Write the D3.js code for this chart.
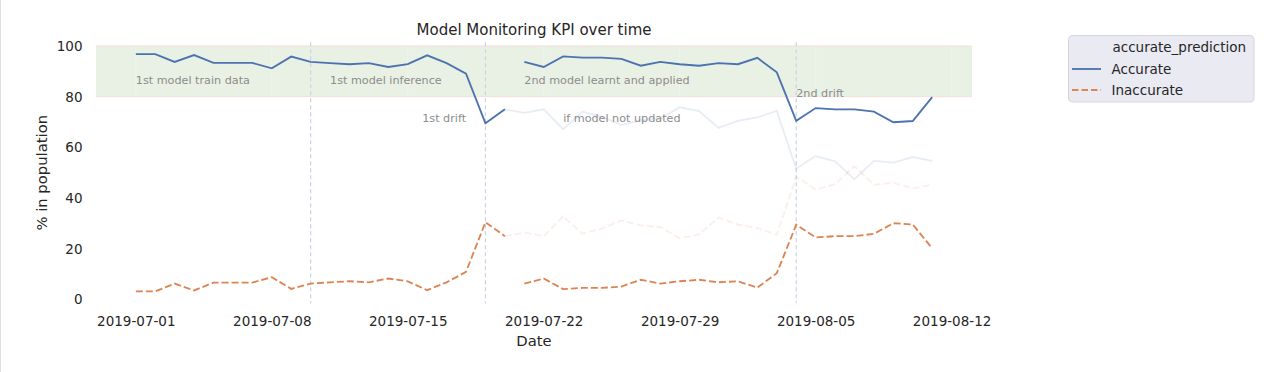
<html>
<head>
    <title>Model Monitoring KPI over time</title>
    <script src="https://d3js.org/d3.v7.min.js"></script>
    <style>
        body { margin: 0; background: #fff; }
        text { font-family: "DejaVu Sans", sans-serif; }
    </style>
</head>
<body>
<div id="container"></div>
<script>
// dates of the first model period (train + inference) and second model period
var dates1 = ["2019-07-01", "2019-07-02", "2019-07-03", "2019-07-04", "2019-07-05",
              "2019-07-06", "2019-07-07", "2019-07-08", "2019-07-09", "2019-07-10",
              "2019-07-11", "2019-07-12", "2019-07-13", "2019-07-14", "2019-07-15",
              "2019-07-16", "2019-07-17", "2019-07-18", "2019-07-19", "2019-07-20"];
var dates2 = ["2019-07-21", "2019-07-22", "2019-07-23", "2019-07-24", "2019-07-25",
              "2019-07-26", "2019-07-27", "2019-07-28", "2019-07-29", "2019-07-30",
              "2019-07-31", "2019-08-01", "2019-08-02", "2019-08-03", "2019-08-04",
              "2019-08-05", "2019-08-06", "2019-08-07", "2019-08-08", "2019-08-09",
              "2019-08-10", "2019-08-11"];
// "if model not updated" runs from 2019-07-20 on
var datesOld = ["2019-07-20"].concat(dates2);

var accurate1   = [96.8, 96.8, 93.7, 96.4, 93.3, 93.3, 93.3, 91.2, 95.8, 93.7,
                   93.2, 92.8, 93.2, 91.7, 92.8, 96.3, 93.2, 89.1, 69.5, 75.0];
var inaccurate1 = [3.2, 3.2, 6.3, 3.6, 6.7, 6.7, 6.7, 8.8, 4.2, 6.3,
                   6.8, 7.2, 6.8, 8.3, 7.2, 3.7, 6.8, 10.9, 30.5, 25.0];
var accurate2   = [93.7, 91.7, 95.9, 95.4, 95.4, 94.9, 92.2, 93.7, 92.8, 92.2, 93.2,
                   92.8, 95.3, 89.6, 70.5, 75.5, 75.0, 75.0, 74.1, 69.9, 70.4, 79.8];
var inaccurate2 = [6.3, 8.3, 4.1, 4.6, 4.6, 5.1, 7.8, 6.3, 7.2, 7.8, 6.8,
                   7.2, 4.7, 10.4, 29.5, 24.5, 25.0, 25.0, 25.9, 30.1, 29.6, 20.2];
var oldAccurate   = [75.0, 73.6, 75.0, 67.2, 74.0, 72.0, 68.8, 70.8, 71.4, 75.8, 74.3, 67.7,
                     70.5, 71.8, 74.4, 51.6, 56.6, 54.5, 47.4, 54.7, 54.0, 56.2, 54.7];
var oldInaccurate = [25.0, 26.4, 25.0, 32.8, 26.0, 28.0, 31.2, 29.2, 28.6, 24.2, 25.7, 32.3,
                     29.5, 28.2, 25.6, 48.4, 43.4, 45.5, 52.6, 45.3, 46.0, 43.8, 45.3];

var xTickLabels = ["2019-07-01", "2019-07-08", "2019-07-15", "2019-07-22",
                   "2019-07-29", "2019-08-05", "2019-08-12"];
var yTicks = [0, 20, 40, 60, 80, 100];
var driftDates = ["2019-07-10", "2019-07-19", "2019-08-04"];
var band = [80, 100];

var notes = [
    {date: "2019-07-01", y: 85, text: "1st model train data", anchor: "start"},
    {date: "2019-07-11", y: 85, text: "1st model inference", anchor: "start"},
    {date: "2019-07-21", y: 85, text: "2nd model learnt and applied", anchor: "start"},
    {date: "2019-07-18", y: 70, text: "1st drift", anchor: "end"},
    {date: "2019-07-23", y: 70, text: "if model not updated", anchor: "start"},
    {date: "2019-08-04", y: 80, text: "2nd drift", anchor: "start"}
];

var parse = d3.timeParse("%Y-%m-%d");
var width = 1287, height = 372;
var plotLeft = 96, plotRight = 972, plotTop = 42.2, plotBottom = 303.3;
var blue = "#4c72b0", orange = "#dd8452", ink = "#262626";

var svg = d3.select("#container").append("svg")
    .attr("width", width)
    .attr("height", height);

// notebook cell border
svg.append("line").attr("x1", 0.5).attr("x2", 0.5).attr("y1", 0).attr("y2", height)
    .style("stroke", "#e0e0e0");

var allDates = dates1.concat(dates2).map(parse);
var ext = d3.extent(allDates);
var pad = (ext[1] - ext[0]) * 0.05;
var x = d3.scaleTime()
    .domain([new Date(+ext[0] - pad), new Date(+ext[1] + pad)])
    .range([plotLeft, plotRight]);

var allVals = accurate1.concat(inaccurate1, accurate2, inaccurate2);
var vmin = d3.min(allVals), vmax = d3.max(allVals);
var vpad = (vmax - vmin) * 0.05;
var y = d3.scaleLinear()
    .domain([vmin - vpad, vmax + vpad])
    .range([plotBottom, plotTop]);

// green band
svg.append("rect")
    .attr("x", plotLeft)
    .attr("y", y(band[1]))
    .attr("width", plotRight - plotLeft)
    .attr("height", y(band[0]) - y(band[1]))
    .style("fill", "#e9f1e5");
svg.selectAll(".bandEdge")
    .data(band)
    .enter()
    .append("line")
    .classed("bandEdge", true)
    .attr("x1", plotLeft).attr("x2", plotRight)
    .attr("y1", function(d) { return y(d); })
    .attr("y2", function(d) { return y(d); })
    .style("stroke", "#f3dedb")
    .style("stroke-width", 1);
svg.selectAll(".bandGrid")
    .data(xTickLabels)
    .enter()
    .append("line")
    .classed("bandGrid", true)
    .attr("x1", function(d) { return x(parse(d)); })
    .attr("x2", function(d) { return x(parse(d)); })
    .attr("y1", y(band[1]) + 0.5)
    .attr("y2", y(band[0]) - 0.5)
    .style("stroke", "#eef4eb")
    .style("stroke-width", 1);

// drift markers
svg.selectAll(".drift")
    .data(driftDates)
    .enter()
    .append("line")
    .classed("drift", true)
    .attr("x1", function(d) { return x(parse(d)); })
    .attr("x2", function(d) { return x(parse(d)); })
    .attr("y1", plotTop)
    .attr("y2", plotBottom)
    .style("stroke", "#c9d3e5")
    .style("stroke-width", 1.2)
    .style("stroke-dasharray", "4,3");

// axes
var xAxis = svg.append("g")
    .attr("transform", "translate(0," + plotBottom + ")")
    .call(d3.axisBottom(x)
        .tickValues(xTickLabels.map(parse))
        .tickFormat(d3.timeFormat("%Y-%m-%d"))
        .tickSize(0));
xAxis.select(".domain").remove();
xAxis.selectAll("text")
    .attr("y", 326 - plotBottom)
    .attr("dy", null)
    .style("font-size", "13.5px")
    .style("fill", ink);

var yAxis = svg.append("g")
    .attr("transform", "translate(" + plotLeft + ",0)")
    .call(d3.axisLeft(y).tickValues(yTicks).tickSize(0).tickPadding(13.5));
yAxis.select(".domain").remove();
yAxis.selectAll("text")
    .style("font-size", "13.5px")
    .style("fill", ink);

svg.append("text")
    .attr("x", (plotLeft + plotRight) / 2)
    .attr("y", 35)
    .attr("text-anchor", "middle")
    .style("font-size", "15px")
    .style("fill", ink)
    .text("Model Monitoring KPI over time");
svg.append("text")
    .attr("x", (plotLeft + plotRight) / 2)
    .attr("y", 346)
    .attr("text-anchor", "middle")
    .style("font-size", "14.8px")
    .style("fill", ink)
    .text("Date");
svg.append("text")
    .attr("transform", "translate(47," + ((plotTop + plotBottom) / 2) + ") rotate(-90)")
    .attr("text-anchor", "middle")
    .style("font-size", "14.8px")
    .style("fill", ink)
    .text("% in population");

// lines
var line = d3.line()
    .x(function(d) { return x(d.date); })
    .y(function(d) { return y(d.v); });
var pair = function(ds, vs) {
    return ds.map(function(d, i) { return {date: parse(d), v: vs[i]}; });
};
var series = [
    {pts: pair(datesOld, oldAccurate), color: blue, dash: null, op: 0.13},
    {pts: pair(datesOld, oldInaccurate), color: orange, dash: "7,3", op: 0.13},
    {pts: pair(dates1, accurate1), color: blue, dash: null, op: 1},
    {pts: pair(dates1, inaccurate1), color: orange, dash: "7,3", op: 1},
    {pts: pair(dates2, accurate2), color: blue, dash: null, op: 1},
    {pts: pair(dates2, inaccurate2), color: orange, dash: "7,3", op: 1}
];
svg.selectAll(".series")
    .data(series)
    .enter()
    .append("path")
    .classed("series", true)
    .attr("d", function(d) { return line(d.pts); })
    .style("fill", "none")
    .style("stroke", function(d) { return d.color; })
    .style("stroke-opacity", function(d) { return d.op; })
    .style("stroke-width", 1.85)
    .style("stroke-dasharray", function(d) { return d.dash; });

// annotations
svg.selectAll(".note")
    .data(notes)
    .enter()
    .append("text")
    .classed("note", true)
    .attr("x", function(d) { return x(parse(d.date)); })
    .attr("y", function(d) { return y(d.y); })
    .attr("text-anchor", function(d) { return d.anchor; })
    .style("font-size", "11.2px")
    .style("fill", "#8c8c8c")
    .text(function(d) { return d.text; });

// legend
var lg = svg.append("g");
lg.append("rect")
    .attr("x", 1068.5).attr("y", 35.5)
    .attr("width", 185.5).attr("height", 66.5)
    .attr("rx", 4)
    .style("fill", "#eaeaf2")
    .style("stroke", "#d6d6de");
lg.append("text")
    .attr("x", 1112.5).attr("y", 52)
    .style("font-size", "13.5px").style("fill", ink)
    .text("accurate_prediction");
var legendItems = [
    {name: "Accurate", color: blue, dash: null},
    {name: "Inaccurate", color: orange, dash: "6.5,3"}
];
var items = lg.selectAll(".item")
    .data(legendItems)
    .enter()
    .append("g")
    .classed("item", true)
    .attr("transform", function(d, i) { return "translate(0," + (69 + i * 21) + ")"; });
items.append("line")
    .attr("x1", 1072).attr("x2", 1101).attr("y1", 0).attr("y2", 0)
    .style("stroke", function(d) { return d.color; })
    .style("stroke-width", 1.85)
    .style("stroke-dasharray", function(d) { return d.dash; });
items.append("text")
    .attr("x", 1111.5).attr("y", 4.5)
    .style("font-size", "13.5px").style("fill", ink)
    .text(function(d) { return d.name; });
</script>
</body>
</html>
